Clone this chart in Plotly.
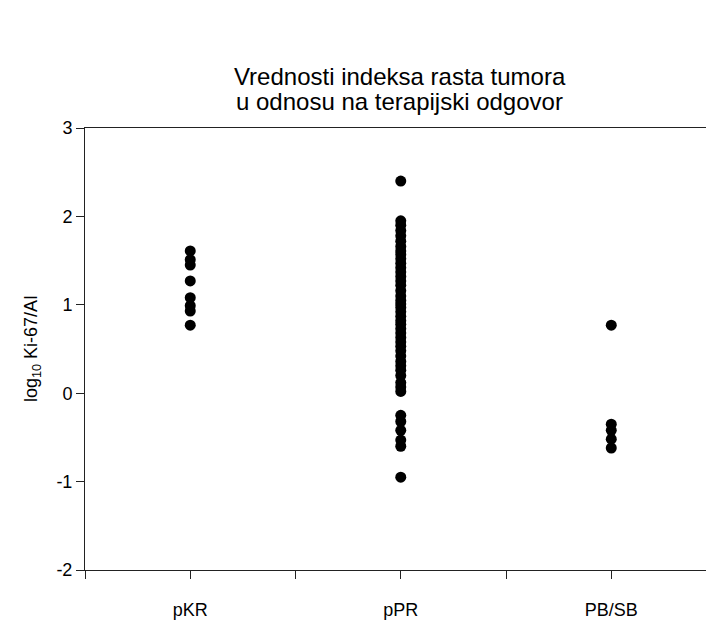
import plotly.graph_objects as go

# Category positions on the x axis and their labels
categories = ["pKR", "pPR", "PB/SB"]
category_pos = [1, 3, 5]

# log10 Ki-67/AI values per therapeutic response group
pkr_values = [1.61, 1.51, 1.45, 1.27, 1.08, 0.99, 0.93, 0.77]
ppr_values = [2.40, 1.95, 1.90, 1.84, 1.78, 1.72, 1.66, 1.61, 1.57, 1.52, 1.47,
              1.42, 1.37, 1.32, 1.27, 1.22, 1.16, 1.10, 1.05, 1.01, 0.97, 0.92,
              0.87, 0.82, 0.78, 0.73, 0.68, 0.63, 0.58, 0.53, 0.48, 0.42, 0.36,
              0.31, 0.26, 0.20, 0.12, 0.07, 0.02, -0.25, -0.32, -0.42, -0.53,
              -0.60, -0.95]
pbsb_values = [0.77, -0.35, -0.42, -0.52, -0.62]

groups = [pkr_values, ppr_values, pbsb_values]

x_ticks = [0, 1, 2, 3, 4, 5, 6]
x_ticktext = ["", "pKR", "", "pPR", "", "PB/SB", ""]
y_ticks = [-2, -1, 0, 1, 2, 3]
y_ticktext = ["-2", "-1", "0", "1", "2", "3"]

title_lines = ["Vrednosti indeksa rasta tumora", "u odnosu na terapijski odgovor"]

fig = go.Figure()
for pos, vals in zip(category_pos, groups):
    fig.add_trace(go.Scatter(
        x=[pos] * len(vals), y=vals, mode="markers",
        marker=dict(symbol="circle", size=11, color="black"),
        showlegend=False, hoverinfo="y",
    ))

font_family = "Liberation Sans, Arial, sans-serif"

annotations = []
for line, shift in zip(title_lines, [52, 27]):
    annotations.append(dict(
        text=line, xref="paper", yref="paper", x=0.507, y=1.0, yshift=shift,
        xanchor="center", yanchor="middle", showarrow=False,
        font=dict(family=font_family, size=24, color="black"),
    ))
annotations.append(dict(
    text="log<sub>10</sub> Ki-67/AI", xref="paper", yref="paper",
    x=0, y=0.5, xshift=-53, textangle=-90,
    xanchor="center", yanchor="middle", showarrow=False,
    font=dict(family=font_family, size=18, color="black"),
))

fig.update_layout(
    width=706, height=623,
    margin=dict(l=85, r=0, t=128, b=53),
    plot_bgcolor="white", paper_bgcolor="white",
    font=dict(family=font_family, size=18, color="black"),
    annotations=annotations,
    xaxis=dict(
        range=[0, 5.9], tickvals=x_ticks, ticktext=x_ticktext,
        showgrid=False, zeroline=False, showline=True, linecolor="#222",
        linewidth=1, mirror=True, ticks="outside", ticklen=8, tickcolor="#222",
        ticklabelstandoff=15, tickfont=dict(size=18),
    ),
    yaxis=dict(
        range=[-2, 3], tickvals=y_ticks, ticktext=y_ticktext,
        showgrid=False, zeroline=False, showline=True, linecolor="#222",
        linewidth=1, ticks="outside", ticklen=8, tickcolor="#222",
        tickfont=dict(size=18),
    ),
)

fig.write_html("out.html")
